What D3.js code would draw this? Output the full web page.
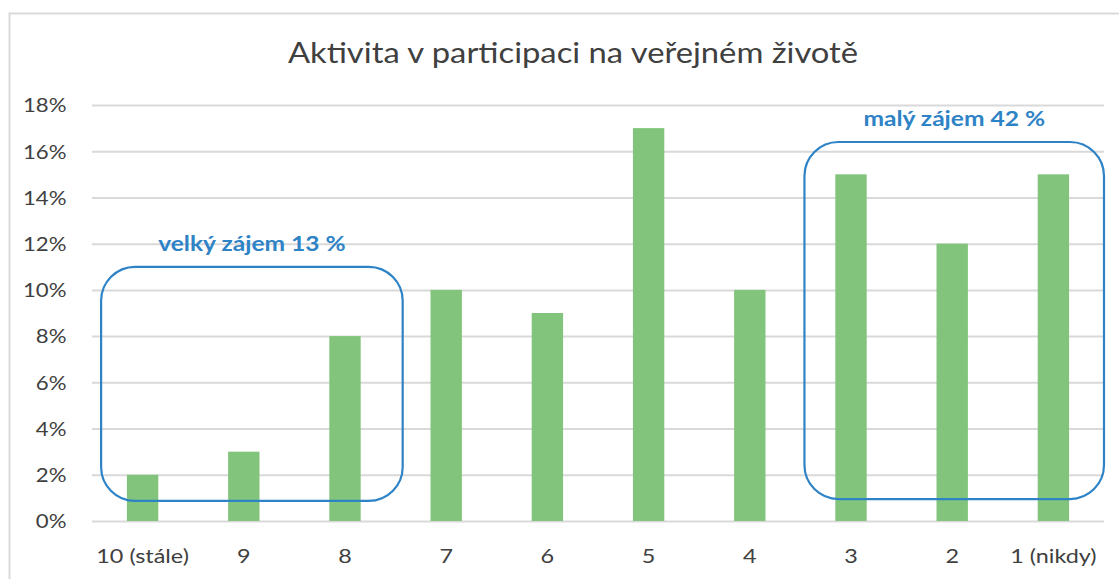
<!DOCTYPE html>
<html lang="cs">
<head>
  <meta charset="UTF-8">
  <title>Aktivita v participaci na veřejném životě</title>
  <style>
    body { margin: 0; background: #fff; font-family: Lato, "Open Sans", sans-serif; }
    .grid line { stroke: #d9d9d9; stroke-width: 2; }
    .grid path { display: none; }
    .axis path, .axis line { display: none; }
    .axis text { fill: #404040; font-family: Lato, "Open Sans", sans-serif; }
  </style>
  <script src="https://d3js.org/d3.v7.min.js"></script>
</head>
<body>
  <div id="chart"></div>
  <script>
    var categories = ['10 (stále)', '9', '8', '7', '6', '5', '4', '3', '2', '1 (nikdy)'];
    var values = [2, 3, 8, 10, 9, 17, 10, 15, 12, 15];
    var yTicks = [0, 2, 4, 6, 8, 10, 12, 14, 16, 18];
    // rounded boxes: category-index span (i0..i1) and value span (lo..hi)
    var groups = [
      {i0: -0.41, i1: 2.57, lo: 0.87, hi: 11.0, label: 'velký zájem 13 %'},
      {i0: 6.54, i1: 9.5, lo: 0.95, hi: 16.4, label: 'malý zájem 42 %'}
    ];

    var W = 1119, H = 579;
    var margin = {top: 105, right: 15, bottom: 58, left: 92};
    var width = W - margin.left - margin.right;
    var height = H - margin.top - margin.bottom;
    var sx = 1.17; // text is a bit wider than tall in the original

    var svg = d3.select('#chart').append('svg')
      .attr('width', W).attr('height', H);

    // outer chart border
    svg.append('rect')
      .attr('x', 9.5).attr('y', 13.5)
      .attr('width', W + 20).attr('height', H + 20)
      .attr('fill', 'none').attr('stroke', '#d9d9d9').attr('stroke-width', 2);

    svg.append('text')
      .attr('transform', 'translate(573,63) scale(' + sx + ',1)')
      .attr('text-anchor', 'middle')
      .attr('font-size', 28).attr('fill', '#404040')
      .text('Aktivita v participaci na veřejném životě');

    var g = svg.append('g').attr('transform', 'translate(' + margin.left + ',' + margin.top + ')');

    var x = d3.scaleBand().domain(categories).range([0, width])
      .paddingInner(0.69).paddingOuter(0.345);
    var xi = d3.scaleLinear().domain([-0.5, categories.length - 0.5]).range([0, width]);
    var y = d3.scaleLinear().domain([0, 18]).range([height, 0]);

    g.append('g').attr('class', 'grid')
      .call(d3.axisLeft(y).tickValues(yTicks).tickSize(-width).tickFormat(''));

    g.append('g').attr('class', 'axis')
      .attr('transform', 'translate(-22,0)')
      .call(d3.axisLeft(y).tickValues(yTicks).tickSize(0).tickFormat(function(d) { return d + '%'; }))
      .selectAll('text')
      .attr('dy', '0.36em').attr('font-size', 19)
      .attr('transform', 'scale(' + sx + ',1)');

    g.append('g').attr('class', 'axis')
      .attr('transform', 'translate(0,' + height + ')')
      .call(d3.axisBottom(x).tickSize(0).tickPadding(28))
      .selectAll('text')
      .attr('font-size', 20)
      .attr('transform', 'scale(' + sx + ',1)');

    g.selectAll('.bar').data(values).enter().append('rect')
      .attr('class', 'bar')
      .attr('x', function(d, i) { return x(categories[i]); })
      .attr('width', x.bandwidth())
      .attr('y', function(d) { return y(d); })
      .attr('height', function(d) { return height - y(d); })
      .attr('fill', '#82c47b');

    g.selectAll('.group').data(groups).enter().append('rect')
      .attr('class', 'group')
      .attr('x', function(d) { return xi(d.i0); })
      .attr('y', function(d) { return y(d.hi); })
      .attr('width', function(d) { return xi(d.i1) - xi(d.i0); })
      .attr('height', function(d) { return y(d.lo) - y(d.hi); })
      .attr('rx', 34).attr('ry', 34)
      .attr('fill', 'none').attr('stroke', '#2e83c6').attr('stroke-width', 2.2);

    g.selectAll('.glabel').data(groups).enter().append('text')
      .attr('class', 'glabel')
      .attr('transform', function(d) {
        return 'translate(' + (xi(d.i0) + xi(d.i1)) / 2 + ',' + (y(d.hi) - 16) + ') scale(' + sx + ',1)';
      })
      .attr('text-anchor', 'middle')
      .attr('font-size', 21).attr('font-weight', 'bold').attr('fill', '#2e83c6')
      .text(function(d) { return d.label; });
  </script>
</body>
</html>
